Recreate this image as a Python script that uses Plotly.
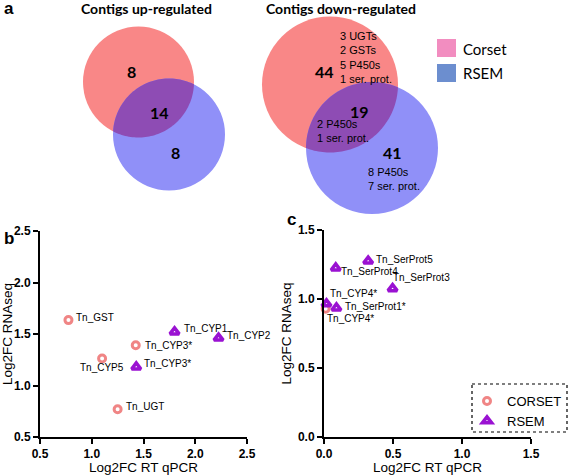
import math
import plotly.graph_objects as go

# ---------------- data ----------------
venn_up_counts = [8, 14, 8]            # corset only, both, rsem only
venn_down_counts = [44, 19, 41]
venn_down_notes = ["3 UGTs<br>2 GSTs<br>5 P450s<br>1 ser. prot.",
                   "2 P450s<br>1 ser. prot.",
                   "8 P450s<br>7 ser. prot."]

b_corset_x = [0.775, 1.425, 1.10, 1.25]
b_corset_y = [1.635, 1.39, 1.262, 0.77]
b_corset_lab = ["Tn_GST", "Tn_CYP3*", "Tn_CYP5", "Tn_UGT"]
b_rsem_x = [1.80, 2.225, 1.43]
b_rsem_y = [1.52, 1.46, 1.18]
b_rsem_lab = ["Tn_CYP1", "Tn_CYP2", "Tn_CYP3*"]

c_corset_x = [0.012]
c_corset_y = [0.93]
c_corset_lab = ["Tn_CYP4*"]
c_rsem_x = [0.32, 0.085, 0.497, 0.018, 0.09]
c_rsem_y = [1.275, 1.225, 1.075, 0.965, 0.935]
c_rsem_lab = ["Tn_SerProt5", "Tn_SerProt4", "Tn_SerProt3", "Tn_CYP4*", "Tn_SerProt1*"]

b_ticks = [0.5, 1.0, 1.5, 2.0, 2.5]
c_ticks = [0.0, 0.5, 1.0, 1.5]

# ---------------- styles ----------------
W, H = 568, 475
RED = "#F98787"
BLUE = "#9090F8"
OVER = "#8E4CB4"
COR_COL = "#F08585"
RSEM_COL = "#9A12D2"

fig = go.Figure()

def add_pts(x, y, name, sym, col, size, lw, xa, ya, show):
    fig.add_trace(go.Scatter(
        x=x, y=y, mode="markers", name=name, showlegend=show,
        marker=dict(symbol=sym, size=size, color=col, line=dict(color=col, width=lw)),
        xaxis=xa, yaxis=ya, cliponaxis=False))

add_pts(b_corset_x, b_corset_y, "CORSET", "circle-open", COR_COL, 7, 3, "x", "y", False)
add_pts(b_rsem_x, b_rsem_y, "RSEM", "triangle-up-open", RSEM_COL, 8, 3.5, "x", "y", False)
add_pts(c_corset_x, c_corset_y, "CORSET", "circle-open", COR_COL, 7, 3, "x2", "y2", True)
add_pts(c_rsem_x, c_rsem_y, "RSEM", "triangle-up-open", RSEM_COL, 8, 3.5, "x2", "y2", True)

# invisible overlay axis in pixel coordinates for Venn parts
fig.add_trace(go.Scatter(x=[0, W], y=[0, H], mode="markers", marker=dict(opacity=0),
                         showlegend=False, hoverinfo="skip", xaxis="x3", yaxis="y3"))

annots = []
lab_font = dict(family="Liberation Sans, Arial", size=10, color="black")

def add_labels(xs, ys, labs, offs, xr, yr):
    for x, y, t, (anc, dx, dy) in zip(xs, ys, labs, offs):
        annots.append(dict(x=x, y=y, xref=xr, yref=yr, text=t, showarrow=False,
                           xanchor=anc, yanchor="middle", xshift=dx, yshift=dy, font=lab_font))

add_labels(b_corset_x, b_corset_y, b_corset_lab,
           [("left", 6, 3), ("left", 7, 0), ("center", 0, -9), ("left", 6, 3)], "x", "y")
add_labels(b_rsem_x, b_rsem_y, b_rsem_lab,
           [("left", 7, 3), ("left", 6, 3), ("left", 6, 3)], "x", "y")
add_labels(c_corset_x, c_corset_y, c_corset_lab, [("left", -1, -10)], "x2", "y2")
add_labels(c_rsem_x, c_rsem_y, c_rsem_lab,
           [("left", 6, 2), ("left", 3, -4), ("left", -2, 11), ("left", 2, 10), ("left", 7, 1)],
           "x2", "y2")

# ---------------- Venn shapes ----------------
shapes = []

def circle(cx, cy, r, col):
    shapes.append(dict(type="circle", xref="x3", yref="y3", x0=cx - r, x1=cx + r,
                       y0=cy - r, y1=cy + r, fillcolor=col, line=dict(width=0), layer="below"))

def lens(c1, r1, c2, r2, col, n=60):
    dx, dy = c2[0] - c1[0], c2[1] - c1[1]
    d = math.hypot(dx, dy)
    t0 = math.atan2(dy, dx)
    a1 = math.acos((d * d + r1 * r1 - r2 * r2) / (2 * d * r1))
    a2 = math.acos((d * d + r2 * r2 - r1 * r1) / (2 * d * r2))
    p1 = [(c1[0] + r1 * math.cos(t0 - a1 + 2 * a1 * i / n),
           c1[1] + r1 * math.sin(t0 - a1 + 2 * a1 * i / n)) for i in range(n + 1)]
    p2 = [(c2[0] + r2 * math.cos(t0 + math.pi - a2 + 2 * a2 * i / n),
           c2[1] + r2 * math.sin(t0 + math.pi - a2 + 2 * a2 * i / n)) for i in range(n + 1)]
    end = p1[-1]
    if math.hypot(p2[0][0] - end[0], p2[0][1] - end[1]) > math.hypot(p2[-1][0] - end[0], p2[-1][1] - end[1]):
        p2 = p2[::-1]
    pts = p1 + p2
    path = "M " + " L ".join(f"{x:.2f},{y:.2f}" for x, y in pts) + " Z"
    shapes.append(dict(type="path", xref="x3", yref="y3", path=path, fillcolor=col,
                       line=dict(width=0), layer="below"))

up_red, up_blue = ((138.5, 82.0), 55.5), ((169.0, 134.5), 56.0)
dn_red, dn_blue = ((330.0, 84.5), 68.0), ((372.0, 148.0), 66.0)
for (c, r), col in [(up_red, RED), (up_blue, BLUE), (dn_red, RED), (dn_blue, BLUE)]:
    circle(c[0], c[1], r, col)
lens(up_red[0], up_red[1], up_blue[0], up_blue[1], OVER)
lens(dn_red[0], dn_red[1], dn_blue[0], dn_blue[1], OVER)

shapes.append(dict(type="rect", xref="x3", yref="y3", x0=437, x1=456, y0=39, y1=57,
                   fillcolor="#F28DC0", line=dict(width=0)))
shapes.append(dict(type="rect", xref="x3", yref="y3", x0=437, x1=456, y0=64, y1=82,
                   fillcolor="#6C8ECF", line=dict(width=0)))
shapes.append(dict(type="rect", xref="x3", yref="y3", x0=472, x1=567, y0=384, y1=432,
                   fillcolor="rgba(0,0,0,0)", line=dict(color="black", width=1.2, dash="dot")))

def px_text(x, y, t, size, fam="Lato", anc="center", col="black"):
    annots.append(dict(x=x, y=y, xref="x3", yref="y3", text=t, showarrow=False,
                       xanchor=anc, yanchor="middle",
                       font=dict(family=fam, size=size, color=col), align="left"))

px_text(9, 8, "<b>a</b>", 17, "Liberation Sans")
px_text(9, 238, "<b>b</b>", 17, "Liberation Sans")
px_text(291, 219, "<b>c</b>", 17, "Liberation Sans")
px_text(146, 8, "<b>Contigs up-regulated</b>", 14)
px_text(341, 8, "<b>Contigs down-regulated</b>", 14)
px_text(461, 49, "Corset", 15, anc="left")
px_text(461, 73, "RSEM", 15, anc="left")

px_text(131, 71, f"<b>{venn_up_counts[0]}</b>", 16)
px_text(159, 112, f"<b>{venn_up_counts[1]}</b>", 16)
px_text(175, 152, f"<b>{venn_up_counts[2]}</b>", 16)
px_text(324, 71, f"<b>{venn_down_counts[0]}</b>", 16)
px_text(359, 111, f"<b>{venn_down_counts[1]}</b>", 16)
px_text(392, 152, f"<b>{venn_down_counts[2]}</b>", 16)
fam_small = "Liberation Sans"
px_text(338, 57, venn_down_notes[0], 11, fam_small, anc="left")
px_text(315, 131, venn_down_notes[1], 11, fam_small, anc="left")
px_text(366, 179, venn_down_notes[2], 11, fam_small, anc="left")

# ---------------- axes ----------------
tickf = dict(family="Liberation Sans, Arial", size=12, color="black")
titf = dict(family="Liberation Sans, Arial", size=13.5, color="black")
common = dict(showline=True, linewidth=2, linecolor="black", ticks="outside", ticklen=5,
              tickwidth=2, tickcolor="black", showgrid=False, zeroline=False,
              tickfont=tickf, title_font=titf, fixedrange=True, automargin=False)

def bold_txt(vals):
    return [f"<b>{v:.1f}</b>" for v in vals]

fig.update_layout(
    width=W, height=H, autosize=False,
    margin=dict(l=0, r=0, t=0, b=0, autoexpand=False),
    paper_bgcolor="white", plot_bgcolor="rgba(0,0,0,0)",
    xaxis=dict(domain=[40 / W, 247 / W], range=[0.5, 2.5], tickvals=b_ticks,
               ticktext=bold_txt(b_ticks), anchor="y",
               title=dict(text="Log2FC RT qPCR", standoff=8), **common),
    yaxis=dict(domain=[(H - 437) / H, (H - 231) / H], range=[0.5, 2.5],
               tickvals=b_ticks, ticktext=bold_txt(b_ticks),
               anchor="x", title=dict(text="Log2FC RNAseq", standoff=3), **common),
    xaxis2=dict(domain=[324 / W, 531 / W], range=[0, 1.5], tickvals=c_ticks,
                ticktext=bold_txt(c_ticks), anchor="y2",
                title=dict(text="Log2FC RT qPCR", standoff=8), **common),
    yaxis2=dict(domain=[(H - 437) / H, (H - 230) / H], range=[0, 1.5],
                tickvals=c_ticks, ticktext=bold_txt(c_ticks),
                anchor="x2", title=dict(text="Log2FC RNAseq", standoff=3), **common),
    xaxis3=dict(domain=[0, 1], range=[0, W], visible=False, fixedrange=True, anchor="y3"),
    yaxis3=dict(domain=[0, 1], range=[H, 0], visible=False, fixedrange=True, anchor="x3"),
    showlegend=True,
    legend=dict(x=467 / W, y=(H - 386) / H, xanchor="left", yanchor="top",
                bgcolor="rgba(0,0,0,0)", borderwidth=0, tracegroupgap=0,
                font=dict(family="Liberation Sans, Arial", size=13, color="black")),
    shapes=shapes, annotations=annots,
)

fig.write_html("out.html", config={"displayModeBar": False},
               post_script="document.body.style.margin='0';document.body.style.overflow='hidden';")
